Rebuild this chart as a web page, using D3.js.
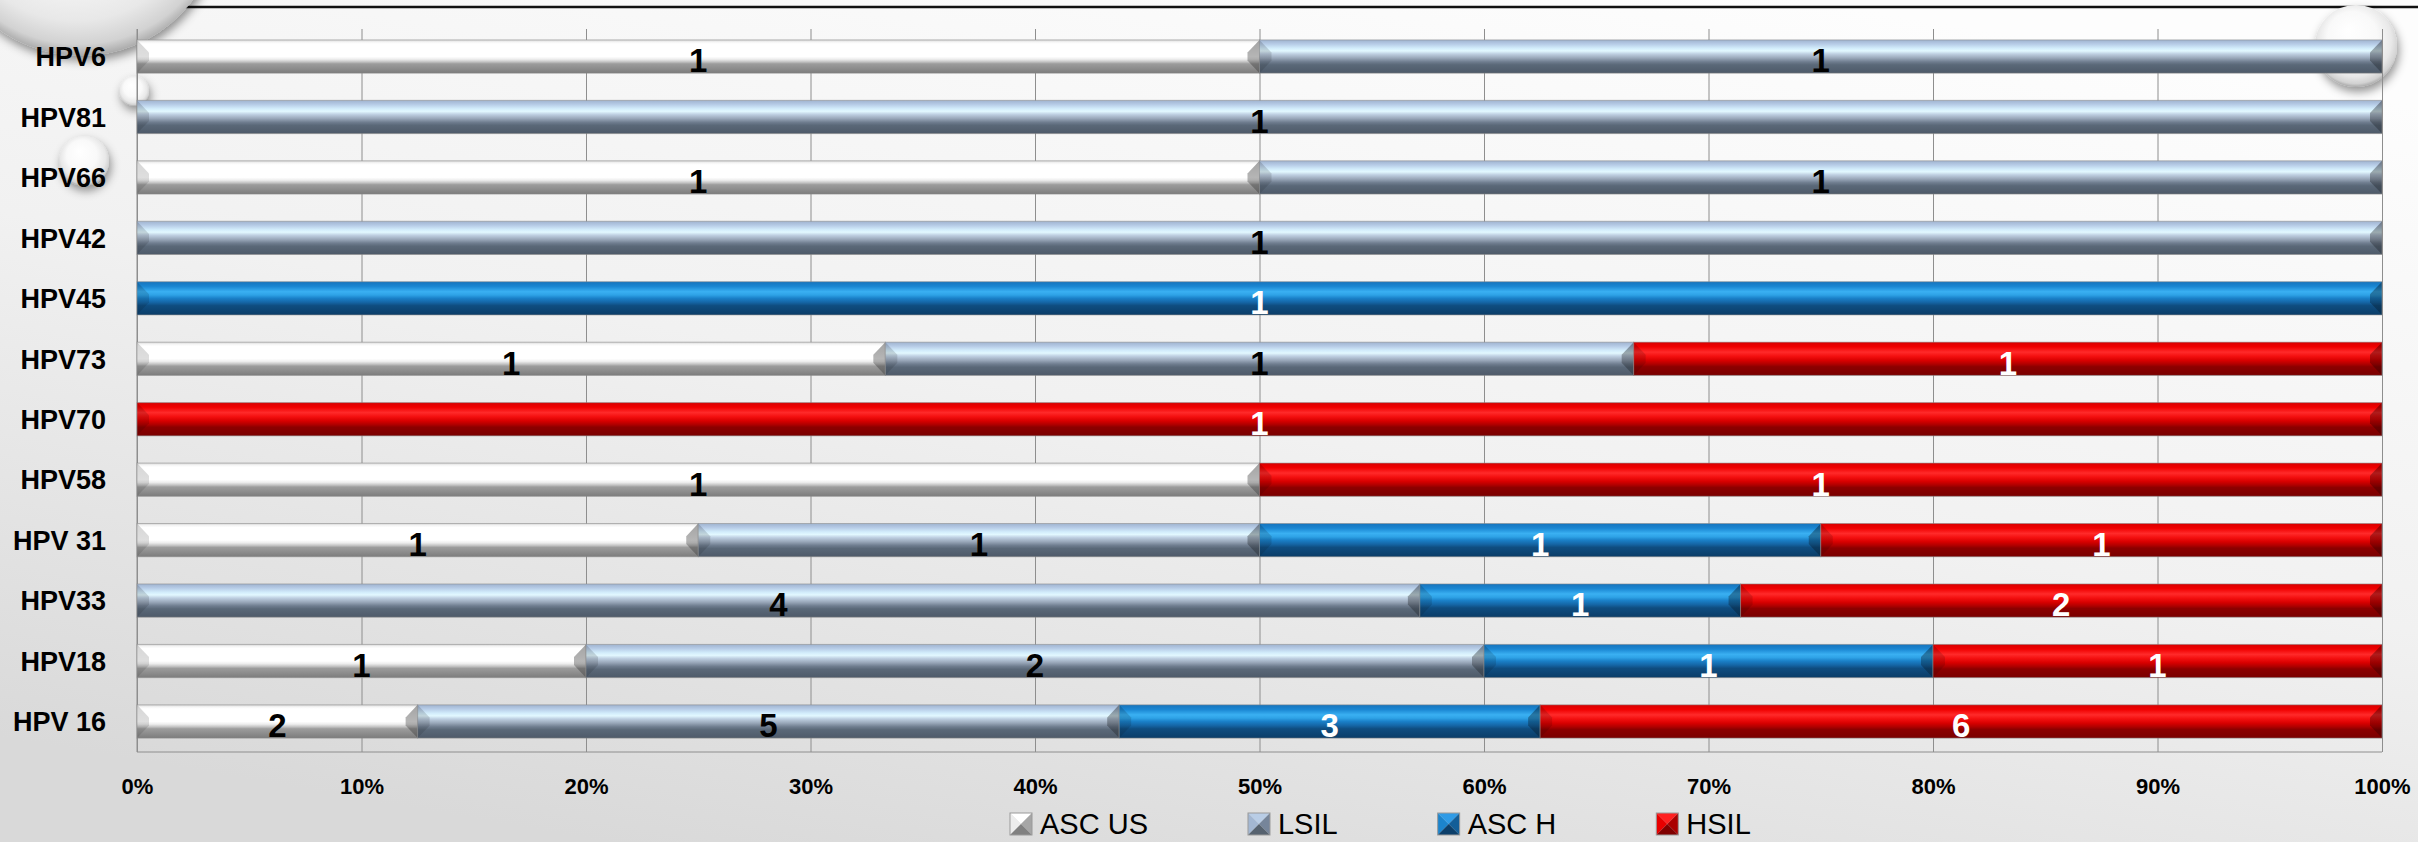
<!DOCTYPE html>
<html>
<head>
<meta charset="utf-8">
<script src="https://cdn.jsdelivr.net/npm/d3@7"></script>
<style>
  body { margin: 0; background: #fff; }
  svg { display: block; }
  text { font-family: "Liberation Sans", Arial, sans-serif; }
</style>
</head>
<body>
<svg id="chart" width="2418" height="842"></svg>
<script>
// HPV genotype vs. cytology result, counts per genotype (shown as 100% stacked bars)
const categories = ["HPV6", "HPV81", "HPV66", "HPV42", "HPV45", "HPV73", "HPV70", "HPV58", "HPV 31", "HPV33", "HPV18", "HPV 16"];
const seriesNames = ["ASC US", "LSIL", "ASC H", "HSIL"];
const ascUS = [1, 0, 1, 0, 0, 1, 0, 1, 1, 0, 1, 2];
const lsil  = [1, 1, 1, 1, 0, 1, 0, 0, 1, 4, 2, 5];
const ascH  = [0, 0, 0, 0, 1, 0, 0, 0, 1, 1, 1, 3];
const hsil  = [0, 0, 0, 0, 0, 1, 1, 1, 1, 2, 1, 6];
const xTicks = [0, 0.1, 0.2, 0.3, 0.4, 0.5, 0.6, 0.7, 0.8, 0.9, 1.0];

const W = 2418, H = 842;
const svg = d3.select("#chart");
const defs = svg.append("defs");

// ---- bar shading per series: top edge, highlight, body, dark lower band
const barStops = [
  [[0, "#d4d4d4"], [0.06, "#f4f4f4"], [0.12, "#ffffff"], [0.5, "#ffffff"], [0.58, "#eeeeee"], [0.66, "#c4c4c4"], [0.72, "#9c9c9c"], [0.88, "#8a8a8a"], [1, "#7c7c7c"]],
  [[0, "#9fb3cf"], [0.12, "#b6cbe6"], [0.25, "#d2ecfb"], [0.33, "#e2f8ff"], [0.42, "#bfd0e2"], [0.55, "#98a6b8"], [0.66, "#6f7d8f"], [0.75, "#5a6878"], [1, "#4e5a69"]],
  [[0, "#1674bd"], [0.14, "#1a86d2"], [0.3, "#3ab0f2"], [0.4, "#2ea2e6"], [0.5, "#1a80c8"], [0.62, "#1566a6"], [0.72, "#0f4d80"], [1, "#0b3d68"]],
  [[0, "#d80000"], [0.14, "#f00000"], [0.3, "#ff2a2a"], [0.42, "#f41010"], [0.55, "#d80000"], [0.66, "#b00000"], [0.74, "#8c0000"], [1, "#7a0000"]]
];
barStops.forEach((stops, i) => {
  const g = defs.append("linearGradient").attr("id", "bar-" + i)
    .attr("x1", 0).attr("y1", 0).attr("x2", 0).attr("y2", 1);
  stops.forEach(s => g.append("stop").attr("offset", s[0]).attr("stop-color", s[1]));
});

// end faces of the bevel
const leftFace = defs.append("linearGradient").attr("id", "face-l").attr("x1", 0).attr("y1", 0).attr("x2", 0).attr("y2", 1);
leftFace.append("stop").attr("offset", 0).attr("stop-color", "#000").attr("stop-opacity", 0.16);
leftFace.append("stop").attr("offset", 1).attr("stop-color", "#000").attr("stop-opacity", 0.10);
const rightFace = defs.append("linearGradient").attr("id", "face-r").attr("x1", 0).attr("y1", 0).attr("x2", 0).attr("y2", 1);
rightFace.append("stop").attr("offset", 0).attr("stop-color", "#000").attr("stop-opacity", 0.36);
rightFace.append("stop").attr("offset", 1).attr("stop-color", "#000").attr("stop-opacity", 0.22);

// ---- page background
const bg = defs.append("linearGradient").attr("id", "bg")
  .attr("x1", 0.75).attr("y1", 0).attr("x2", 0.25).attr("y2", 1);
[[0, "#fdfdfd"], [0.5, "#f1f1f1"], [1, "#d9d9d9"]].forEach(s =>
  bg.append("stop").attr("offset", s[0]).attr("stop-color", s[1]));

// glassy drops
const drop = defs.append("radialGradient").attr("id", "drop")
  .attr("cx", 0.5).attr("cy", 0.45).attr("r", 0.55).attr("fx", 0.4).attr("fy", 0.3);
[[0, "#ffffff"], [0.55, "#f9f9f9"], [0.82, "#e8e8e8"], [0.94, "#d2d2d2"], [1, "#a9a9a9"]].forEach(s =>
  drop.append("stop").attr("offset", s[0]).attr("stop-color", s[1]));
const shadow = defs.append("filter").attr("id", "shadow")
  .attr("x", "-30%").attr("y", "-30%").attr("width", "160%").attr("height", "160%");
shadow.append("feDropShadow").attr("dx", 2).attr("dy", 5).attr("stdDeviation", 5)
  .attr("flood-color", "#000").attr("flood-opacity", 0.42);

svg.append("rect").attr("width", W).attr("height", H).attr("fill", "url(#bg)");

// decorative bar at the top and glass drops
svg.append("line").attr("x1", 0).attr("x2", W).attr("y1", 7).attr("y2", 7)
  .attr("stroke", "#111").attr("stroke-width", 2.5);
const drops = svg.append("g").attr("filter", "url(#shadow)");
drops.append("circle").attr("cx", 81).attr("cy", -84).attr("r", 140).attr("fill", "url(#drop)");
drops.append("circle").attr("cx", 134).attr("cy", 91).attr("r", 15).attr("fill", "url(#drop)");
drops.append("circle").attr("cx", 84).attr("cy", 161).attr("r", 25).attr("fill", "url(#drop)");
drops.append("circle").attr("cx", 2356).attr("cy", 46).attr("r", 41).attr("fill", "url(#drop)");

// ---- scales
const x = d3.scaleLinear().domain([0, 1]).range([137, 2382]);
const y = d3.scaleBand().domain(categories).range([26.3, 751.7])
  .paddingInner(0.45).paddingOuter(0.225);
const plotTop = 29, plotBottom = 752;

// vertical gridlines + percent labels
const xAxis = svg.append("g").attr("transform", `translate(0,${plotBottom})`)
  .call(d3.axisBottom(x).tickValues(xTicks).tickFormat(d3.format(".0%"))
    .tickSize(-(plotBottom - plotTop)).tickPadding(26));
xAxis.select(".domain").remove();
xAxis.selectAll(".tick line").attr("stroke", "#8e8e8e").attr("stroke-width", 1);
xAxis.selectAll(".tick text").attr("font-size", 22).attr("font-weight", "bold").attr("fill", "#000");
svg.append("line").attr("x1", x(0)).attr("x2", x(1)).attr("y1", plotBottom).attr("y2", plotBottom)
  .attr("stroke", "#8e8e8e").attr("stroke-width", 1);

// category axis
const yAxis = svg.append("g").attr("transform", `translate(${x(0)},0)`)
  .call(d3.axisLeft(y).tickSize(0).tickPadding(31));
yAxis.select(".domain").remove();
yAxis.selectAll(".tick text").attr("font-size", 27).attr("font-weight", "bold").attr("fill", "#000").attr("dy", "0.36em");
svg.append("line").attr("x1", x(0)).attr("x2", x(0)).attr("y1", plotTop).attr("y2", plotBottom)
  .attr("stroke", "#8e8e8e").attr("stroke-width", 1);

// ---- stacked (expanded to 100%) bars
const rows = categories.map((c, i) => ({
  cat: c, "ASC US": ascUS[i], "LSIL": lsil[i], "ASC H": ascH[i], "HSIL": hsil[i]
}));
const layers = d3.stack().keys(seriesNames).offset(d3.stackOffsetExpand)(rows);
const labelColors = ["#000", "#000", "#fff", "#fff"];

const bars = svg.append("g");
const bw = y.bandwidth();
layers.forEach((layer, li) => {
  layer.forEach(d => {
    const v = d.data[layer.key];
    if (!v) return;
    const x0 = x(d[0]), x1 = x(d[1]), y0 = y(d.data.cat), y1 = y0 + bw;
    const b = Math.min(12, (x1 - x0) / 2);
    const seg = bars.append("g");
    seg.append("rect").attr("x", x0).attr("y", y0).attr("width", x1 - x0).attr("height", bw)
      .attr("fill", `url(#bar-${li})`);
    seg.append("polygon")
      .attr("points", [[x0, y0], [x0 + b, y0 + bw * 0.38], [x0 + b, y0 + bw * 0.62], [x0, y1]].join(" "))
      .attr("fill", "url(#face-l)");
    seg.append("polygon")
      .attr("points", [[x1, y0], [x1 - b, y0 + bw * 0.38], [x1 - b, y0 + bw * 0.62], [x1, y1]].join(" "))
      .attr("fill", "url(#face-r)");
    seg.append("rect").attr("x", x0).attr("y", y0).attr("width", x1 - x0).attr("height", bw)
      .attr("fill", "none").attr("stroke", "#8a8a8a").attr("stroke-opacity", 0.55).attr("stroke-width", 1);
  });
});

// value labels
const labels = svg.append("g");
layers.forEach((layer, li) => {
  layer.forEach(d => {
    const v = d.data[layer.key];
    if (!v) return;
    labels.append("text")
      .attr("x", (x(d[0]) + x(d[1])) / 2)
      .attr("y", y(d.data.cat) + bw / 2 + 4)
      .attr("dy", "0.36em")
      .attr("text-anchor", "middle")
      .attr("font-size", 33).attr("font-weight", "bold")
      .attr("fill", labelColors[li])
      .text(v);
  });
});

// ---- legend
const swatchFaces = [
  ["#ffffff", "#ececec", "#a6a6a6", "#808080"],
  ["#b9cde6", "#a3b7d2", "#76859a", "#56626f"],
  ["#2f9be6", "#1c84cc", "#135e98", "#0c3f6a"],
  ["#ff2020", "#e80000", "#aa0000", "#800000"]
];
const legend = svg.append("g").attr("transform", "translate(1010,813)");
let lx = 0;
seriesNames.forEach((name, i) => {
  const s = 22, c = s / 2;
  const item = legend.append("g").attr("transform", `translate(${lx},0)`);
  const f = swatchFaces[i];
  item.append("polygon").attr("points", `0,0 ${s},0 ${c},${c}`).attr("fill", f[0]);
  item.append("polygon").attr("points", `0,0 ${c},${c} 0,${s}`).attr("fill", f[1]);
  item.append("polygon").attr("points", `${s},0 ${s},${s} ${c},${c}`).attr("fill", f[2]);
  item.append("polygon").attr("points", `0,${s} ${c},${c} ${s},${s}`).attr("fill", f[3]);
  item.append("rect").attr("width", s).attr("height", s).attr("fill", "none")
    .attr("stroke", "#9a9a9a").attr("stroke-width", 1);
  const t = item.append("text").attr("x", s + 8).attr("y", 21)
    .attr("font-size", 29).attr("fill", "#000").text(name);
  lx += s + 8 + t.node().getComputedTextLength() + 100;
});
</script>
</body>
</html>
